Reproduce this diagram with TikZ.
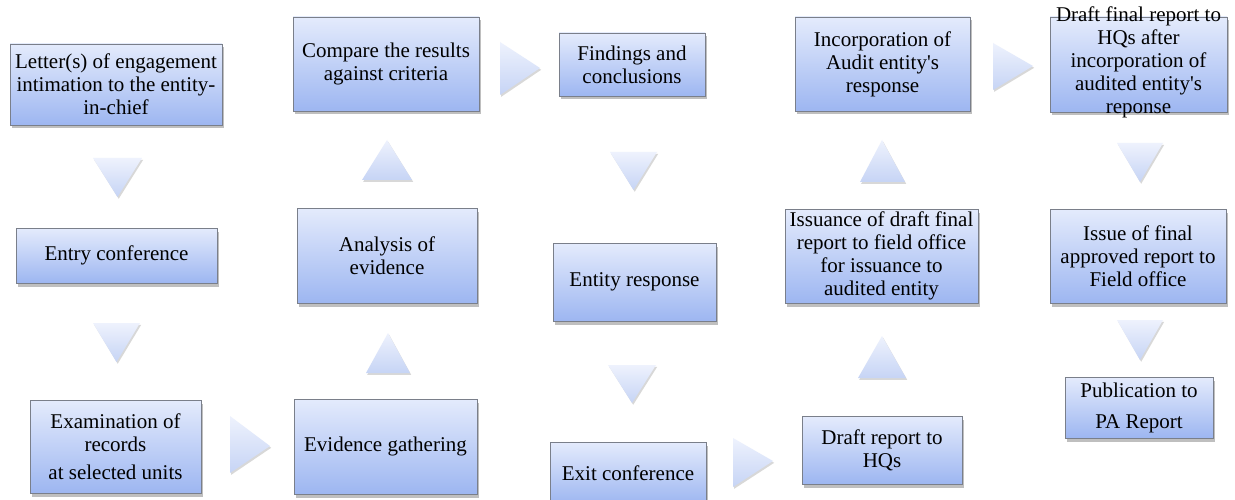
\documentclass[tikz,border=0pt]{standalone}
\usepackage{fontspec}
\setmainfont{Liberation Serif}
\usetikzlibrary{shadows}
\definecolor{boxtop}{HTML}{E4EBFC}
\definecolor{boxbot}{HTML}{9DB6F1}
\definecolor{boxline}{HTML}{7A7F8A}
\definecolor{tritop}{HTML}{EEF2FD}
\definecolor{tribot}{HTML}{C6D4F5}
\tikzset{
  box/.style={draw=boxline, line width=0.9pt, top color=boxtop, bottom color=boxbot,
    align=center, inner sep=0pt, font=\fontsize{21}{23}\selectfont,
    drop shadow={shadow xshift=1.5pt, shadow yshift=-3.5pt, opacity=0.45, fill=black!55}},
  plain/.style={align=center, inner sep=0pt, font=\fontsize{21}{23}\selectfont},
  tri/.style={top color=tritop, bottom color=tribot, draw=none,
    drop shadow={shadow xshift=1.2pt, shadow yshift=-1.8pt, opacity=0.3, fill=black!50}}
}
\begin{document}
\begin{tikzpicture}[x=1pt,y=-1pt]
\useasboundingbox[fill=white] (0,0) rectangle (1235,500);
% column 1
\node[box, minimum width=212pt, minimum height=81pt] (b1) at (116,84.5)
  {Letter(s) of engagement\\intimation to the entity-\\in-chief};
\node[box, minimum width=201pt, minimum height=55pt] (b2) at (116.5,255.5) {Entry conference};
\node[box, minimum width=171pt, minimum height=93pt] (b3) at (115.5,446.5)
  {Examination of\\records\\[5pt]at selected units};
% column 2
\node[box, minimum width=183pt, minimum height=95pt] (b4) at (385.5,446.5) {Evidence gathering};
\node[box, minimum width=180pt, minimum height=95pt] (b5) at (387,255.5) {Analysis of\\evidence};
\node[box, minimum width=186pt, minimum height=94pt] (b6) at (386,64) {Compare the results\\against criteria};
% column 3
\node[box, minimum width=146pt, minimum height=63pt] (b7) at (632,64.5) {Findings and\\conclusions};
\node[box, minimum width=163pt, minimum height=78pt] (b8) at (634.5,282) {Entity response};
\node[box, minimum width=156pt, minimum height=62pt] (b9) at (628,473) {Exit conference};
% column 4
\node[box, minimum width=160pt, minimum height=68pt] (b10) at (882,450) {Draft report to\\HQs};
\node[box, minimum width=193pt, minimum height=94pt] (b11) at (881.5,256)
  {Issuance of draft final\\report to field office\\for issuance to\\audited entity};
\node[box, minimum width=175pt, minimum height=94pt] (b12) at (882.5,64)
  {Incorporation of\\Audit entity\textquotesingle s\\response};
% column 5
\node[box, minimum width=177pt, minimum height=95pt] (b13) at (1138.5,64.5) {};
\node[plain] (b13t) at (1138.5,62.5)
  {Draft final report to\\HQs after\\incorporation of\\audited entity\textquotesingle s\\reponse};
\node[box, minimum width=176pt, minimum height=94pt] (b14) at (1138,256)
  {Issue of final\\approved report to\\Field office};
\node[box, minimum width=148pt, minimum height=61pt] (b15) at (1139,407.5)
  {Publication to\\[8pt]PA Report};
% arrows (triangles)
\path[tri] (93,158) -- (142,158) -- (117.5,197) -- cycle;
\path[tri] (93,323) -- (140,323) -- (116.5,362) -- cycle;
\path[tri] (230,416) -- (270,446) -- (230,473) -- cycle;
\path[tri] (388,333) -- (410,373) -- (366,373) -- cycle;
\path[tri] (387,140) -- (412,180) -- (362,180) -- cycle;
\path[tri] (500,42) -- (540,68) -- (500,95) -- cycle;
\path[tri] (610,152) -- (657,152) -- (633.5,190) -- cycle;
\path[tri] (608,365) -- (656,365) -- (632,403) -- cycle;
\path[tri] (733,438) -- (773,461) -- (733,487) -- cycle;
\path[tri] (882,336) -- (906,378) -- (858,378) -- cycle;
\path[tri] (882,140) -- (905,182) -- (860,182) -- cycle;
\path[tri] (993,43) -- (1033,66) -- (993,90) -- cycle;
\path[tri] (1117,143) -- (1163,143) -- (1140,182) -- cycle;
\path[tri] (1117,320) -- (1163,320) -- (1140,360) -- cycle;
\end{tikzpicture}
\end{document}
